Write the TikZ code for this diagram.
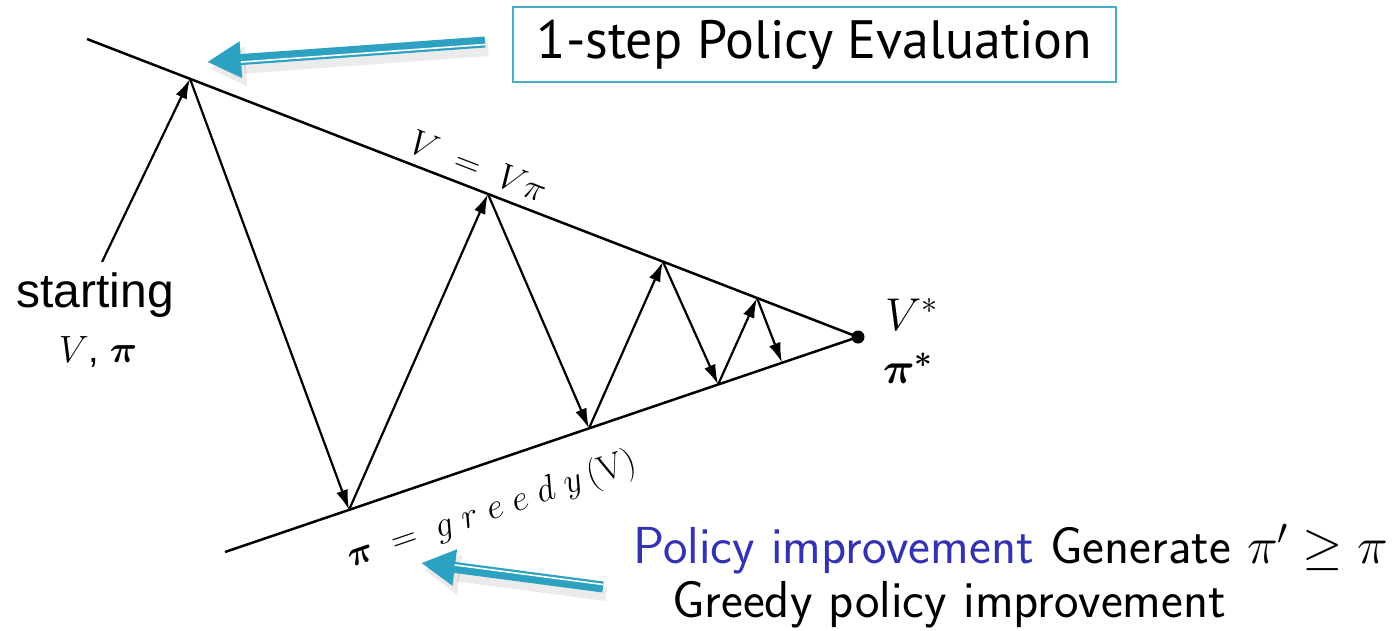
\RequirePackage{fix-cm}
\documentclass[tikz,border=0pt]{standalone}
\usepackage{amsmath,amssymb}
\usepackage{fontspec}
\usetikzlibrary{arrows.meta,calc}
\newfontfamily\ptsans{PT Sans}
\newfontfamily\helv{Liberation Sans}
\definecolor{hintteal}{HTML}{2CA1C1}
\definecolor{boxteal}{HTML}{4BACC6}
\definecolor{alertblue}{rgb}{0.2,0.2,0.7}

\begin{document}
\begin{tikzpicture}[x=1pt,y=-1pt,
    valline/.style={line width=2.5pt},
    iterarrow/.style={line width=2.2pt,-{Latex[length=20pt,width=12pt]}},
    hintarrow/.style={hintteal,line width=11pt,-{Triangle[length=34pt,width=34pt]}},
    hintshadow/.style={black,opacity=0.08,line width=14pt,-{Triangle[length=36pt,width=38pt]}},
    hintshine/.style={white,line width=1.6pt},
    evalbox/.style={draw=boxteal,line width=2pt,minimum width=603pt,minimum height=75pt,inner sep=0pt},
    bigtext/.style={font=\sffamily\fontsize{52}{56}\selectfont,inner sep=0pt}]
    \useasboundingbox (0,0) rectangle (1393,630);

    % the two lines meet in the optimum
    \node[circle,fill,inner sep=0pt,minimum size=13pt] (star) at (858,337) {};
    \coordinate (vstart) at (87,39);
    \coordinate (pistart) at (225,552);
    \draw[valline] (vstart) -- (star.center)
        node[pos=0.497,sloped,above=6pt,font=\fontsize{36}{40}\selectfont] (vlabel) {$V \;=\; V\pi$};
    \draw[valline] (pistart) -- (star.center)
        node[pos=0.398,sloped,below=24pt,font=\fontsize{36}{40}\selectfont] (pilabel)
        {$\boldsymbol{\pi} \;=\; g\;r\;e\;e\;d\;y\,(\mathrm{V})$};

    % points where the zigzag touches the lines
    \foreach \n/\t in {1/0.1336,2/0.520,3/0.747,4/0.869}{
        \coordinate (t\n) at ($(vstart)!\t!(star.center)$);
    }
    \foreach \n/\s in {1/0.196,2/0.575,3/0.779,4/0.880}{
        \coordinate (b\n) at ($(pistart)!\s!(star.center)$);
    }
    \foreach \a/\b in {t1/b1,b1/t2,t2/b2,b2/t3,t3/b3,b3/t4,t4/b4}{
        \draw[iterarrow] (\a) -- (\b);
    }

    % start values
    \node[anchor=base,font=\helv\fontsize{48}{52}\selectfont,inner sep=0pt] (startword) at (95,307) {starting};
    \node[anchor=base,font=\helv\fontsize{38}{42}\selectfont,inner sep=0pt] (startvals) at (98,362) {$V$, $\boldsymbol{\pi}$};
    \coordinate (starttail) at (102,262);
    \draw[iterarrow] (starttail) -- (t1);

    \node[anchor=base west,font=\fontsize{46}{50}\selectfont,inner sep=0pt] (vstar) at (885,330) {$V^{*}$};
    \node[anchor=base west,font=\fontsize{44}{48}\selectfont,inner sep=0pt] (pistar) at (883,383) {$\boldsymbol{\pi}^{\boldsymbol{*}}$};

    % evaluation box and its pointer
    \node[evalbox] (evalbox) at (814.5,44.5) {\ptsans\fontsize{54}{60}\selectfont 1-step Policy Evaluation};
    \coordinate (evaltail) at (485,42);
    \coordinate (evaltip) at (207,62);
    \draw[hintshadow] ($(evaltail)+(3,7)$) -- ($(evaltip)+(3,7)$);
    \draw[hintarrow] (evaltail) -- (evaltip);
    \draw[hintshine] ($(evaltail)+(0,2.5)$) -- ($(evaltip)!34pt!(evaltail)+(0,2.5)$);

    % improvement text and its pointer
    \node[bigtext,anchor=base west] (improve) at (633,563)
        {\textcolor{alertblue}{Policy improvement}\ Generate $\pi' \geq \pi$};
    \node[bigtext,anchor=base west] (greedy) at (672,617) {Greedy policy improvement};
    \coordinate (greedytail) at (603,587);
    \coordinate (greedytip) at (421,563);
    \draw[hintshadow] ($(greedytail)+(3,7)$) -- ($(greedytip)+(3,7)$);
    \draw[hintarrow] (greedytail) -- (greedytip);
    \draw[hintshine] ($(greedytail)+(0,-2.5)$) -- ($(greedytip)!34pt!(greedytail)+(0,-2.5)$);
\end{tikzpicture}
\end{document}
